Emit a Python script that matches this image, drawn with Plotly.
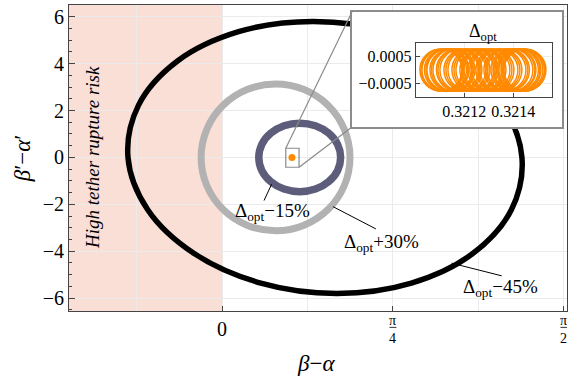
import math
import plotly.graph_objects as go

PI = math.pi

# ---- data (main phase portrait) ----
# Delta_opt - 45 % orbit (black)
black_x = [1.074, 0.769, 0.418, 0.076, -0.206, -0.384, -0.432, -0.342, -0.128,
           0.178, 0.528, 0.870, 1.152, 1.330, 1.378, 1.288, 1.074]
black_y = [4.10, 5.36, 5.80, 5.36, 4.10, 2.22, 0.0, -2.22, -4.10,
           -5.36, -5.80, -5.36, -4.10, -2.22, 0.0, 2.22, 4.10]
# Delta_opt + 30 % orbit (light grey)
grey_x = [0.588, 0.562, 0.488, 0.377, 0.246, 0.115, 0.004, -0.070, -0.096,
          -0.070, 0.004, 0.115, 0.246, 0.377, 0.488, 0.562, 0.588]
grey_y = [0.0, 1.198, 2.213, 2.892, 3.13, 2.892, 2.213, 1.198, 0.0,
          -1.198, -2.213, -2.892, -3.13, -2.892, -2.213, -1.198, 0.0]
# Delta_opt - 15 % orbit (slate)
slate_x = [0.545, 0.531, 0.490, 0.429, 0.357, 0.285, 0.224, 0.183, 0.169,
           0.183, 0.224, 0.285, 0.357, 0.429, 0.490, 0.531, 0.545]
slate_y = [0.0, 0.559, 1.032, 1.349, 1.46, 1.349, 1.032, 0.559, 0.0,
           -0.559, -1.032, -1.349, -1.46, -1.349, -1.032, -0.559, 0.0]
# Delta_opt orbit (orange point in main view)
opt_x = [0.3213]
opt_y = [0.0]

# ---- inset: Delta_opt orbit zoomed (centres of successive loops + loop shape) ----
loop_centers = [0.3211049, 0.3211131, 0.3211233, 0.3211335, 0.3211457, 0.3211580,
                0.3211723, 0.3211865, 0.3212029, 0.3212192, 0.3212355, 0.3212518,
                0.3212681, 0.3212845, 0.3213008, 0.3213171, 0.3213334, 0.3213497,
                0.3213661, 0.3213803, 0.3213946, 0.3214069, 0.3214171, 0.3214273,
                0.3214354, 0.3214415, 0.3214477,
                0.3214436, 0.3214232, 0.3214028, 0.3213742, 0.3213416, 0.3213089,
                0.3212763, 0.3212437, 0.3212110, 0.3211784, 0.3211519, 0.3211294,
                0.3211090]
loop_dx = [0.0000857, 0.0000606, 0.0, -0.0000606, -0.0000857, -0.0000606, 0.0, 0.0000606]
loop_dy = [0.0, 0.000545, 0.00077, 0.000545, 0.0, -0.000545, -0.00077, -0.000545]

x_ticks = [0, PI / 4, PI / 2]
x_fraction_labels = ["π<br>4", "π<br>2"]
y_ticks = [-6, -4, -2, 0, 2, 4, 6]
y_ticktext = ["\u22126", "\u22124", "\u22122", "0", "2", "4", "6"]
inset_xticks = [0.3212, 0.3214]
inset_xtext = ["0.3212", "0.3214"]
inset_yticks = [-0.0005, 0.0005]
inset_ytext = ["\u22120.0005", "0.0005"]

FONT = "Liberation Serif"
ORANGE = "#FF8A00"
GRID = "#ebebeb"
AX = "#444444"


def fnt(size):
    return dict(family=FONT, size=size, color="black")


inset_x, inset_y = [], []
for c in loop_centers:
    for dx, dy in zip(loop_dx + loop_dx[:1], loop_dy + loop_dy[:1]):
        inset_x.append(c + dx)
        inset_y.append(dy)
    inset_x.append(None)
    inset_y.append(None)

fig = go.Figure()
fig.add_trace(go.Scatter(x=black_x, y=black_y, mode="lines", line=dict(color="black", width=5.5, shape="spline"), hoverinfo="skip"))
fig.add_trace(go.Scatter(x=grey_x, y=grey_y, mode="lines", line=dict(color="#b2b2b2", width=7, shape="spline"), hoverinfo="skip"))
fig.add_trace(go.Scatter(x=slate_x, y=slate_y, mode="lines", line=dict(color="#5d5d7b", width=7.5, shape="spline"), hoverinfo="skip"))
fig.add_trace(go.Scatter(x=opt_x, y=opt_y, mode="markers", marker=dict(color=ORANGE, size=7), hoverinfo="skip"))

# frame subplot of the inset (white background covers main plot)
fig.add_trace(go.Scatter(x=[0.5], y=[0.5], mode="markers", marker=dict(opacity=0), xaxis="x2", yaxis="y2", hoverinfo="skip"))
# inset data
fig.add_trace(go.Scatter(x=inset_x, y=inset_y, mode="lines", line=dict(color=ORANGE, width=1.5, shape="spline"),
                         xaxis="x3", yaxis="y3", hoverinfo="skip", connectgaps=False))

fig.update_layout(
    template="none",
    width=569, height=386,
    margin=dict(l=69, r=2, t=5, b=75),
    paper_bgcolor="white", plot_bgcolor="white",
    showlegend=False,
    font=fnt(18),
    xaxis=dict(domain=[0, 1], range=[-0.703, 1.585], tickvals=x_ticks, ticktext=["0", "", ""],
               ticks="inside", ticklen=5, tickcolor=AX, showline=True, mirror=True, linecolor=AX, linewidth=1,
               showgrid=True, gridcolor=GRID, gridwidth=1, zeroline=False, tickfont=fnt(20),
               minor=dict(tickvals=[-PI / 8, PI / 8, 3 * PI / 8], showgrid=True, gridcolor=GRID, ticks="")),
    yaxis=dict(domain=[0, 1], range=[-6.55, 6.5], tickvals=y_ticks, ticktext=y_ticktext,
               ticks="inside", ticklen=6, tickcolor=AX, showline=True, mirror=True, linecolor=AX, linewidth=1,
               showgrid=True, gridcolor=GRID, gridwidth=1, zeroline=False, tickfont=fnt(20),
               minor=dict(dtick=0.5, ticks="inside", ticklen=3, tickcolor=AX, showgrid=False)),
    xaxis2=dict(domain=[0.5683, 0.9894], range=[0, 1], anchor="y2", showline=True, mirror=True,
                linecolor="#8c8c8c", linewidth=1.5, showticklabels=False, showgrid=False, zeroline=False, ticks=""),
    yaxis2=dict(domain=[0.601, 0.977], range=[0, 1], anchor="x2", showline=True, mirror=True,
                linecolor="#8c8c8c", linewidth=1.5, showticklabels=False, showgrid=False, zeroline=False, ticks=""),
    xaxis3=dict(domain=[0.6962, 0.9693], range=[0.321002, 0.321557], anchor="y3",
                tickvals=inset_xticks, ticktext=inset_xtext, ticks="inside", ticklen=4, tickcolor=AX,
                showline=True, mirror=True, linecolor=AX, linewidth=1, showgrid=True, gridcolor=GRID,
                zeroline=False, tickfont=fnt(16)),
    yaxis3=dict(domain=[0.6984, 0.8768], range=[-0.001, 0.001], anchor="x3",
                tickvals=inset_yticks, ticktext=inset_ytext, ticks="inside", ticklen=4, tickcolor=AX,
                showline=True, mirror=True, linecolor=AX, linewidth=1, showgrid=True, gridcolor=GRID,
                zeroline=False, tickfont=fnt(16)),
)

shapes = [
    # high-risk region
    dict(type="rect", xref="x", yref="y", x0=-0.703, x1=0, y0=-6.55, y1=6.5,
         fillcolor="#f9dfd6", line=dict(width=0), layer="below"),
    # zoom box around the optimal orbit
    dict(type="rect", xref="x", yref="y", x0=0.293, x1=0.354, y0=-0.42, y1=0.39,
         line=dict(color="#8a8a8a", width=1.2), layer="above"),
    dict(type="line", xref="x", yref="y", x0=0.293, y0=0.39, x1=0.597, y1=6.205,
         line=dict(color="#8a8a8a", width=1.2), layer="above"),
    dict(type="line", xref="x", yref="y", x0=0.354, y0=-0.42, x1=0.597, y1=1.30,
         line=dict(color="#8a8a8a", width=1.2), layer="above"),
    # callouts
    dict(type="line", xref="x", yref="y", x0=0.193, y0=-1.84, x1=0.228, y1=-1.14,
         line=dict(color="black", width=1), layer="above"),
    dict(type="line", xref="x", yref="y", x0=0.510, y0=-2.10, x1=0.707, y1=-3.05,
         line=dict(color="black", width=1), layer="above"),
    dict(type="line", xref="x", yref="y", x0=1.055, y0=-4.51, x1=1.285, y1=-5.05,
         line=dict(color="black", width=1), layer="above"),
]
# fraction bars for pi/4 and pi/2 tick labels
for xv in x_ticks[1:]:
    shapes.append(dict(type="line", xref="x", yref="paper", x0=xv - 0.016, x1=xv + 0.016,
                       y0=-0.0535, y1=-0.0535, line=dict(color="black", width=0.8)))
fig.update_layout(shapes=shapes)

C = dict(xanchor="center", yanchor="middle", showarrow=False)
ann = [
    dict(x=0.496, y=-0.17, xref="paper", yref="paper", text="<i>β</i>−<i>α</i>", font=fnt(23), **C),
    dict(x=-0.094, y=0.5, xref="paper", yref="paper", text="<i>β</i>′−<i>α</i>′", textangle=-90,
         font=fnt(23), **C),
    dict(x=-0.595, y=0.0, xref="x", yref="y", text="<i>High tether rupture risk</i>", textangle=-90,
         font=fnt(19), **C),
    dict(x=0.234, y=-2.31, xref="x", yref="y", text="Δ<sub>opt</sub>−15%", font=fnt(19), **C),
    dict(x=0.735, y=-3.65, xref="x", yref="y", text="Δ<sub>opt</sub>+30%", font=fnt(19), **C),
    dict(x=1.281, y=-5.57, xref="x", yref="y", text="Δ<sub>opt</sub>−45%", font=fnt(19), **C),
    dict(x=0.832, y=0.9085, xref="paper", yref="paper", text="Δ<sub>opt</sub>", font=fnt(18), **C),
]
for xv, lab in zip(x_ticks[1:], x_fraction_labels):
    ann.append(dict(x=xv, y=0, xref="x", yref="paper", text=lab, yshift=-18, font=fnt(14), **C))
fig.update_layout(annotations=ann)

fig.write_html("out.html")
